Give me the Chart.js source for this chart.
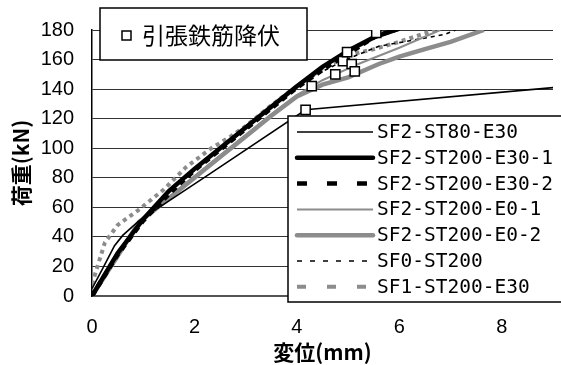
<!DOCTYPE html>
<html lang="ja">
<head>
<meta charset="utf-8">
<title>荷重-変位</title>
<script src="https://cdn.jsdelivr.net/npm/chart.js@4.4.1/dist/chart.umd.min.js"></script>
<style>
  html, body { margin: 0; padding: 0; background: #fff; }
  #wrap { width: 561px; height: 365px; position: relative; }
</style>
</head>
<body>
<div id="wrap"><canvas id="chartLoad"></canvas></div>
<script>
(() => {
  "use strict";

// data: [変位 mm, 荷重 kN]
const st80E30 = [[0,5],[0.2,18],[0.44,34],[0.6,41],[0.92,51],[2.27,82],[4.17,126],[9,141]];
const st200E30a = [[0,0],[0.5,29],[1,52],[1.5,71],[2,86],[2.5,100],[3,114],[3.5,128],[4,142],[4.5,155],[5,166],[5.5,175],[6,181]];
const st200E30b = [[0,0],[0.5,28],[1,51],[1.5,69],[2,85],[2.5,99],[3,113],[3.5,127],[4,141],[4.5,153],[5,164],[5.55,176],[6,181]];
const st200E0a = [[0,0],[0.5,27],[0.92,50],[1.5,67],[2,81],[2.5,95],[3,109],[3.5,123],[4,136],[4.5,146],[4.75,150],[5.2,157],[6,168],[6.8,180]];
const st200E0b = [[0,0],[0.5,27],[0.92,50],[1.5,66],[2,80],[2.5,94],[3,108],[3.5,122],[4,135],[4.5,143],[5,148],[5.6,157],[6,162],[6.5,167],[7,172],[7.65,180]];
const sf0St200 = [[0,0],[0.5,29],[1,52],[1.5,70],[2,85],[2.5,100],[3,113],[3.5,128],[4,142],[4.5,152],[4.96,160],[5.6,169],[6.25,173],[6.88,177],[7.1,180]];
const sf1St200E30 = [[0,8],[0.25,36],[0.5,48],[0.9,58],[1.4,72],[1.83,87],[2.33,100],[2.71,108],[3,115],[3.5,129],[4,142],[4.5,154],[5,163],[5.5,167],[6,172],[6.7,180]];
const yieldPts = [[4.17,126],[4.29,142],[4.75,150],[4.9,159],[4.98,165],[5.07,157],[5.13,152],[5.55,178]];

const xTicks = [0, 2, 4, 6, 8];
const yTicks = [0, 20, 40, 60, 80, 100, 120, 140, 160, 180];

const GRAY = "#8c8c8c";
const toXY = (arr) => arr.map(([x, y]) => ({ x, y }));

const series = [
  { label: "SF2-ST80-E30",      data: st80E30,    color: "#000", width: 1.6, dash: [],     legendDash: [] },
  { label: "SF2-ST200-E30-1",   data: st200E30a,  color: "#000", width: 4.5, dash: [],     legendDash: [] },
  { label: "SF2-ST200-E30-2",   data: st200E30b,  color: "#000", width: 4.5, dash: [6,5],  legendDash: [10,20] },
  { label: "SF2-ST200-E0-1",    data: st200E0a,   color: GRAY,   width: 2,   dash: [],     legendDash: [] },
  { label: "SF2-ST200-E0-2",    data: st200E0b,   color: GRAY,   width: 4.5, dash: [],     legendDash: [] },
  { label: "SF0-ST200",         data: sf0St200,   color: "#000", width: 1.6, dash: [4,4],  legendDash: [5,8] },
  { label: "SF1-ST200-E30",     data: sf1St200E30, color: GRAY,  width: 4,   dash: [4,4],  legendDash: [9,21] },
];

const datasets = [
  {
    label: "引張鉄筋降伏",
    data: toXY(yieldPts),
    showLine: false,
    pointStyle: "rect",
    pointRadius: 6.5,
    pointBackgroundColor: "#fff",
    pointBorderColor: "#000",
    pointBorderWidth: 1.5,
    order: -1,
  },
  ...series.map(s => ({
    label: s.label,
    data: toXY(s.data),
    showLine: true,
    borderColor: s.color,
    borderWidth: s.width,
    borderDash: s.dash,
    pointRadius: 0,
    tension: 0,
    fill: false,
    legendDash: s.legendDash,
  })),
];

// two boxed legends drawn inside the plot, like the original sheet
const boxLegends = {
  id: "boxLegends",
  afterDraw(chart) {
    const ctx = chart.ctx;
    const ds = chart.data.datasets;
    ctx.save();

    // yield marker legend
    ctx.fillStyle = "#fff";
    ctx.strokeStyle = "#000";
    ctx.lineWidth = 1.5;
    ctx.fillRect(100, 8, 207, 52);
    ctx.strokeRect(100, 8, 207, 52);
    ctx.fillRect(122, 31, 9, 9);
    ctx.strokeRect(122, 31, 9, 9);
    ctx.fillStyle = "#000";
    ctx.font = "23px 'Noto Sans CJK JP'";
    ctx.textBaseline = "middle";
    ctx.fillText(ds[0].label, 142, 35);

    // series legend
    ctx.fillStyle = "#fff";
    ctx.lineWidth = 1.5;
    ctx.fillRect(288, 116, 280, 186);
    ctx.strokeRect(288, 116, 280, 186);
    ctx.font = "19.5px 'DejaVu Sans Mono'";
    ds.slice(1).forEach((d, i) => {
      const y = 132 + i * 25.8;
      ctx.beginPath();
      ctx.strokeStyle = d.borderColor;
      ctx.lineWidth = d.borderWidth;
      ctx.lineCap = d.borderWidth > 3 && !d.legendDash.length ? "round" : "butt";
      ctx.setLineDash(d.legendDash);
      ctx.moveTo(297, y);
      ctx.lineTo(373, y);
      ctx.stroke();
      ctx.setLineDash([]);
      ctx.fillStyle = "#000";
      ctx.fillText(d.label, 377, y + 1);
    });
    ctx.restore();
  }
};

new Chart(document.getElementById("chartLoad"), {
  type: "scatter",
  data: { datasets },
  options: {
    responsive: true,
    maintainAspectRatio: false,
    animation: false,
    layout: { padding: { top: 20, right: 0, left: 0, bottom: 0 } },
    plugins: { legend: { display: false }, tooltip: { enabled: false } },
    scales: {
      x: {
        type: "linear",
        min: 0,
        max: 9,
        afterBuildTicks: (ax) => { ax.ticks = xTicks.map(v => ({ value: v })); },
        afterFit: (ax) => { ax.height = 69; },
        grid: { display: false, drawTicks: false },
        border: { display: true, color: "#555", width: 2 },
        ticks: { padding: 19, color: "#000", font: { family: "'Liberation Sans'", size: 20 } },
        title: {
          display: true,
          text: "変位(mm)",
          color: "#000",
          padding: { top: 0, bottom: 0 },
          font: { family: "'Noto Sans CJK JP'", size: 21, weight: "bold" }
        }
      },
      y: {
        min: 0,
        max: 180,
        afterBuildTicks: (ax) => { ax.ticks = yTicks.map(v => ({ value: v })); },
        afterFit: (ax) => { ax.width = 92; },
        grid: { color: "#333", lineWidth: 1, drawTicks: false },
        border: { display: true, color: "#000", width: 1.5 },
        ticks: { padding: 18, color: "#000", font: { family: "'Liberation Sans'", size: 20 } },
        title: {
          display: true,
          text: "荷重(kN)",
          color: "#000",
          padding: { top: 8, bottom: 0 },
          font: { family: "'Noto Sans CJK JP'", size: 21, weight: "bold" }
        }
      }
    }
  },
  plugins: [boxLegends]
});
})();
</script>
</body>
</html>
